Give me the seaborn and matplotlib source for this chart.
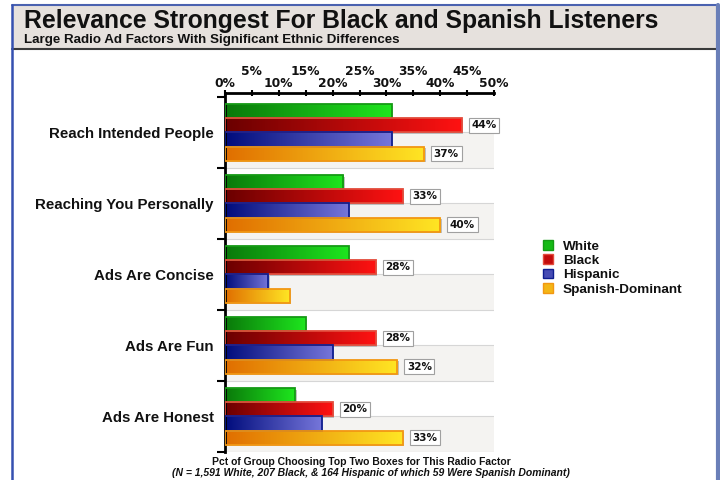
import numpy as np
import pandas as pd
import matplotlib
matplotlib.use("Agg")
import matplotlib.pyplot as plt
import matplotlib.patches as mpatches
import matplotlib.transforms as mtransforms
from matplotlib.colors import LinearSegmentedColormap
import seaborn as sns

# ---------------- data ----------------
categories = ["Reach Intended People", "Reaching You Personally",
              "Ads Are Concise", "Ads Are Fun", "Ads Are Honest"]
groups = ["White", "Black", "Hispanic", "Spanish-Dominant"]
white = [31, 22, 23, 15, 13]
black = [44, 33, 28, 28, 20]
hispanic = [31, 23, 8, 20, 18]
spanish = [37, 40, 12, 32, 33]
# which bars carry a value label (significant differences)
label_white = [False, False, False, False, False]
label_black = [True, True, True, True, True]
label_hispanic = [False, False, False, False, False]
label_spanish = [True, True, False, True, True]
major_ticks = [0, 10, 20, 30, 40, 50]
minor_ticks = [5, 15, 25, 35, 45]

title = "Relevance Strongest For Black and Spanish Listeners"
subtitle = "Large Radio Ad Factors With Significant Ethnic Differences"
xlabel1 = "Pct of Group Choosing Top Two Boxes for This Radio Factor"
xlabel2 = "(N = 1,591 White, 207 Black, & 164 Hispanic of which 59 Were Spanish Dominant)"

series = [white, black, hispanic, spanish]
flags = [label_white, label_black, label_hispanic, label_spanish]

rows = []
for g, vals in zip(groups, series):
    for c, v in zip(categories, vals):
        rows.append({"factor": c, "group": g, "pct": v})
df = pd.DataFrame(rows)

# styles
grad = {
    "White": ("#0a780a", "#1ee61e", "#159a15"),
    "Black": ("#6a0000", "#ff1212", "#e34a3a"),
    "Hispanic": ("#000c7c", "#7676da", "#0f1e90"),
    "Spanish-Dominant": ("#e06e00", "#ffe624", "#f29712"),
}
mid = {g: LinearSegmentedColormap.from_list(g, grad[g][:2])(0.6) for g in groups}

sns.set_theme(style="white")
plt.rcParams["font.family"] = ["Liberation Sans", "DejaVu Sans"]

fig = plt.figure(figsize=(7.2, 4.8), dpi=100)
ax = fig.add_axes([225 / 720, 1 - 452 / 480, (494 - 225) / 720, (452 - 93) / 480])

sns.barplot(data=df, y="factor", x="pct", hue="group", order=categories,
            hue_order=groups, orient="h", width=0.8, ax=ax, legend=False,
            palette=[mid[g] for g in groups], saturation=1)

ax.set_xlim(0, 50)
ax.set_ylim(4.5, -0.5 - 4 / 71)
ax.set_xlabel("")
ax.set_ylabel("")

# background bands and separators
for i in range(len(categories)):
    ax.axhspan(i, i + 0.5, color="#f4f3f1", zorder=0, lw=0)
    ax.axhline(i, color="#d6d6d6", lw=0.8, zorder=0.5)
    ax.axhline(i + 0.5, color="#d6d6d6", lw=0.8, zorder=0.5)

shadow_tr = mtransforms.offset_copy(ax.transData, fig=fig, x=1.6, y=-1.6, units="dots")
gradient = np.linspace(0, 1, 256).reshape(1, -1)
for gi, (g, cont) in enumerate(zip(groups, ax.containers)):
    cmap = LinearSegmentedColormap.from_list(g, grad[g][:2])
    for bi, p in enumerate(cont.patches):
        x, y, w, h = p.get_x(), p.get_y(), p.get_width(), p.get_height()
        sh = mpatches.Rectangle((x, y), w, h, transform=shadow_tr,
                                facecolor="#9a9a9a", edgecolor="none", alpha=0.6, zorder=1.5)
        ax.add_patch(sh)
        im = ax.imshow(gradient, cmap=cmap, aspect="auto",
                       extent=[x, x + w, y + h, y], zorder=2, interpolation="bilinear")
        im.set_clip_path(p)
        p.set_facecolor("none")
        p.set_edgecolor(grad[g][2])
        p.set_linewidth(1.3)
        p.set_zorder(3)
        if flags[gi][bi]:
            ax.annotate(f"{series[gi][bi]:d}%", xy=(x + w, y + h / 2),
                        xytext=(7, 0), textcoords="offset points",
                        ha="left", va="center", fontsize=7.5, fontweight="bold",
                        family="DejaVu Sans", color="#111111", zorder=5,
                        bbox=dict(boxstyle="square,pad=0.25", fc="white",
                                  ec="#a0a0a0", lw=0.8))

ax.set_xlim(0, 50)
ax.set_ylim(4.5, -0.5 - 4 / 71)

# axes / ticks
ax.xaxis.tick_top()
ax.set_xticks(major_ticks)
ax.set_xticklabels([f"{t}%" for t in major_ticks])
ax.set_xticks(minor_ticks, minor=True)
ax.set_xticklabels([f"{t}%" for t in minor_ticks], minor=True)
for lab in ax.get_xticklabels(which="both"):
    lab.set_fontweight("bold")
    lab.set_family("DejaVu Sans")
    lab.set_fontsize(8.8)
    lab.set_color("#111111")
ax.tick_params(axis="x", which="major", top=True, bottom=False, length=4,
               width=1.5, direction="inout", pad=0, color="black")
ax.tick_params(axis="x", which="minor", top=True, bottom=False, length=4,
               width=1.5, direction="inout", pad=8.5, color="black")

ax.set_yticks(range(len(categories)))
ax.set_yticklabels(categories)
for lab in ax.get_yticklabels():
    lab.set_fontweight("bold")
    lab.set_fontsize(10.8)
    lab.set_color("#111111")
ax.set_yticks([i + 0.5 for i in range(-1, len(categories))], minor=True)
ax.tick_params(axis="y", which="major", left=True, length=0, pad=8)
ax.tick_params(axis="y", which="minor", left=True, length=6, width=1.5,
               direction="out", color="black")

for s in ["right", "bottom"]:
    ax.spines[s].set_visible(False)
for s in ["top", "left"]:
    ax.spines[s].set_visible(True)
    ax.spines[s].set_color("black")
    ax.spines[s].set_linewidth(2)
ax.grid(False)

# ---------------- frame and title box ----------------
ftr = fig.transFigure
def fx(px):
    return px / 720
def fy(py):
    return 1 - py / 480

fig.patches.append(mpatches.Rectangle((fx(12), fy(49)), fx(718) - fx(12), fy(5) - fy(49),
                                      transform=ftr, facecolor="#e6e1dd", edgecolor="none", zorder=0))
fig.lines.append(plt.Line2D([fx(12), fx(718)], [fy(49), fy(49)], transform=ftr, color="#3a3a3a", lw=1.5))
fig.lines.append(plt.Line2D([fx(12), fx(718)], [fy(5), fy(5)], transform=ftr, color="#4a62b0", lw=1.5))
fig.lines.append(plt.Line2D([fx(12), fx(12)], [fy(5), fy(482)], transform=ftr, color="#3550b0", lw=1.8))
fig.lines.append(plt.Line2D([fx(718), fx(718)], [fy(5), fy(482)], transform=ftr, color="#6a7fb8", lw=3))

fig.text(fx(24), fy(28), title, fontsize=17.8, fontweight="bold", color="#111111",
         ha="left", va="baseline")
fig.text(fx(24), fy(43), subtitle, fontsize=9.6, fontweight="bold", color="#111111",
         ha="left", va="baseline")

fig.text(fx(361), fy(462), xlabel1, fontsize=7.5, fontweight="bold", color="#111111",
         ha="center", va="center")
fig.text(fx(371), fy(473), xlabel2, fontsize=7.45, fontweight="bold", style="italic",
         color="#111111", ha="center", va="center")

# legend
handles = [mpatches.Patch(facecolor=mid[g], edgecolor=grad[g][2], lw=1) for g in groups]
leg = fig.legend(handles, groups, loc="upper left",
                 bbox_to_anchor=(fx(531), fy(228)), frameon=False,
                 handlelength=0.75, handleheight=0.75, handletextpad=0.7,
                 labelspacing=0.12, prop={"weight": "bold", "size": 9.7,
                                          "family": "Liberation Sans"})
for t in leg.get_texts():
    t.set_color("#111111")

fig.savefig("out.png", dpi=100)
